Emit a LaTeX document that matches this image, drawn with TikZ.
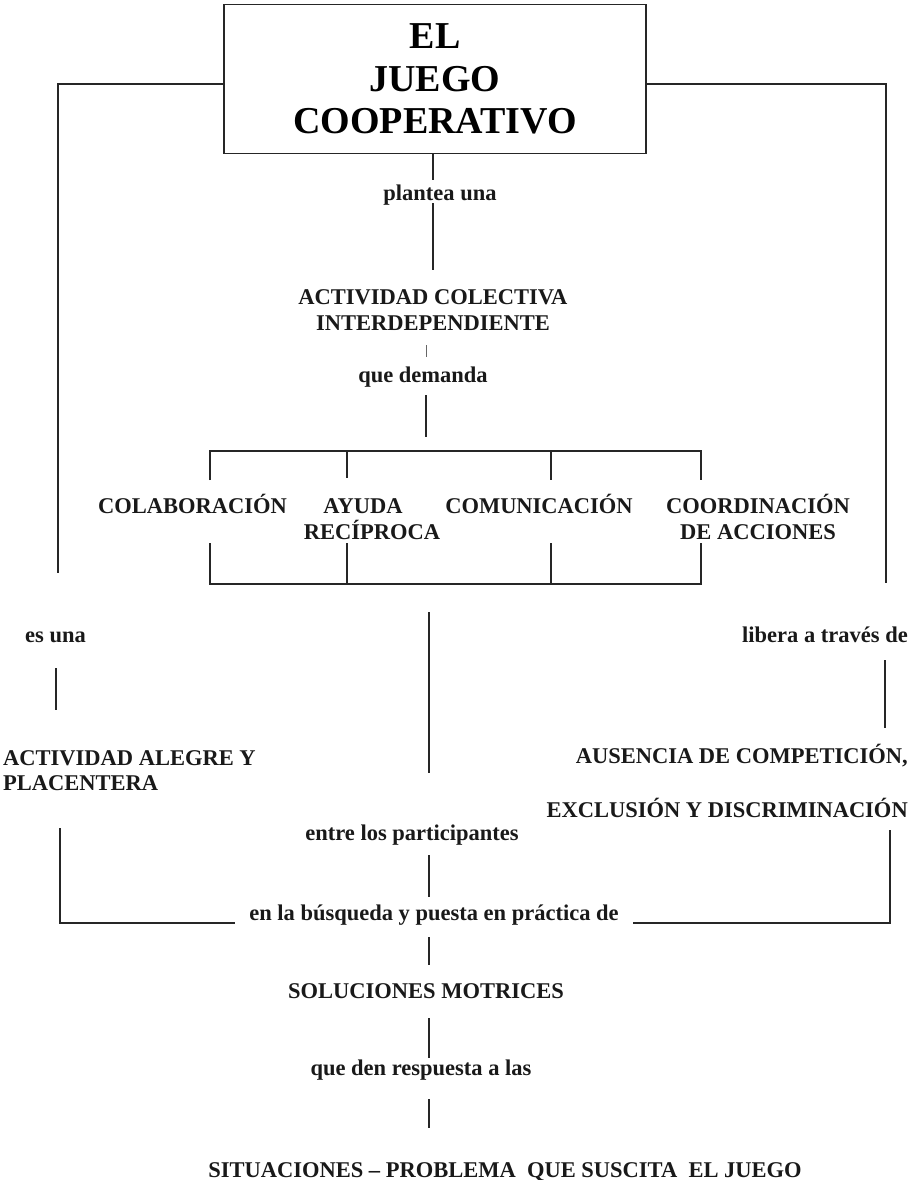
\documentclass[tikz,border=0pt]{standalone}
\usepackage{fontspec}
\setmainfont{Liberation Serif}
\begin{document}
\begin{tikzpicture}[x=1pt,y=-1pt,
  txt/.style={font=\bfseries\fontsize{22.5}{26}\selectfont, inner sep=0pt, anchor=base, align=center, text=black!90},
  ln/.style={line width=1.4pt, draw=black!85}]
\useasboundingbox[fill=white] (0,0) rectangle (910,1180);
% title
\node[draw=black!85, line width=1.8pt, minimum width=422pt, minimum height=149pt, inner sep=0pt, align=center,
  font=\bfseries\fontsize{38}{42.5}\selectfont] (title) at (435,79) {EL\\JUEGO\\COOPERATIVO};
% side branches
\coordinate (tl) at (58,84);  \coordinate (tlb) at (58,573);
\coordinate (tr) at (886,84); \coordinate (trb) at (886,583);
\draw[ln] (title.west |- tl) -- (tl) -- (tlb);
\draw[ln] (title.east |- tr) -- (tr) -- (trb);
% centre column
\coordinate (c1) at (433,180);
\draw[ln] (c1 |- title.south) -- (c1);
\node[txt] (pl) at (440,200) {plantea una};
\coordinate (c2a) at (433,203); \coordinate (c2b) at (433,270);
\draw[ln] (c2a) -- (c2b);
\node[txt] (act) at (433,330) {ACTIVIDAD COLECTIVA\\INTERDEPENDIENTE};
\coordinate (k1) at (426,345); \coordinate (k2) at (426,357);
\draw[line width=0.8pt, draw=black!60] (k1) -- (k2);
\node[txt] (dem) at (423,382) {que demanda};
\coordinate (c3a) at (426,395); \coordinate (c3b) at (426,437);
\draw[ln] (c3a) -- (c3b);
% bracket top
\coordinate (b1) at (210,451); \coordinate (b2) at (347,451); \coordinate (b3) at (551,451); \coordinate (b4) at (701,451);
\draw[ln] ([yshift=-29pt]b1) -- (b1) -- (b4) -- ([yshift=-29pt]b4);
\draw[ln] (b2) -- ([yshift=-27pt]b2);
\draw[ln] (b3) -- ([yshift=-29pt]b3);
% four items
\node[txt] (col) at (192.5,513) {COLABORACIÓN};
\node[txt] (ayu) at (372,539) {AYUDA\hspace*{18pt}\\RECÍPROCA};
\node[txt] (com) at (539,513) {COMUNICACIÓN};
\node[txt] (coo) at (758,539) {COORDINACIÓN\\DE ACCIONES};
% bracket bottom
\coordinate (d1) at (210,584); \coordinate (d2) at (347,584); \coordinate (d3) at (551,584); \coordinate (d4) at (701,584);
\draw[ln] ([yshift=41pt]d1) -- (d1) -- (d4) -- ([yshift=41pt]d4);
\draw[ln] (d2) -- ([yshift=41pt]d2);
\draw[ln] (d3) -- ([yshift=41pt]d3);
\coordinate (c4a) at (429,612); \coordinate (c4b) at (429,773);
\draw[ln] (c4a) -- (c4b);
% left branch
\node[txt] (esuna) at (55.5,642) {es una};
\coordinate (l1) at (56,668); \coordinate (l2) at (56,710);
\draw[ln] (l1) -- (l2);
\node[txt, anchor=base west, align=left, font=\bfseries\fontsize{22.5}{25}\selectfont] (aleg) at (3,790) {ACTIVIDAD ALEGRE Y\\PLACENTERA};
% right branch
\node[txt, anchor=base east] (lib) at (908,642) {libera a través de};
\coordinate (r1) at (885,660); \coordinate (r2) at (885,728);
\draw[ln] (r1) -- (r2);
\node[txt, anchor=base east, align=right, font=\bfseries\fontsize{22.5}{54}\selectfont] (aus) at (908,817) {AUSENCIA DE COMPETICIÓN,\\EXCLUSIÓN Y DISCRIMINACIÓN};
% joining lines
\coordinate (ll1) at (60,828); \coordinate (ll2) at (60,923); \coordinate (ll3) at (235,923);
\draw[ln] (ll1) -- (ll2) -- (ll3);
\coordinate (rr1) at (890,830); \coordinate (rr2) at (890,923); \coordinate (rr3) at (633,923);
\draw[ln] (rr1) -- (rr2) -- (rr3);
\node[txt] (entre) at (412,840) {entre los participantes};
\coordinate (c5a) at (429,855); \coordinate (c5b) at (429,897);
\draw[ln] (c5a) -- (c5b);
\node[txt] (busq) at (434,920) {en la búsqueda y puesta en práctica de};
\coordinate (c6a) at (429,937); \coordinate (c6b) at (429,965);
\draw[ln] (c6a) -- (c6b);
\node[txt] (sol) at (426,998) {SOLUCIONES MOTRICES};
\coordinate (c7a) at (429,1018); \coordinate (c7b) at (429,1058);
\draw[ln] (c7a) -- (c7b);
\node[txt] (resp) at (421,1075) {que den respuesta a las};
\coordinate (c8a) at (429,1099); \coordinate (c8b) at (429,1128);
\draw[ln] (c8a) -- (c8b);
\node[txt] (sit) at (505,1177) {SITUACIONES – PROBLEMA\ \ QUE SUSCITA\ \ EL JUEGO};
\end{tikzpicture}
\end{document}
